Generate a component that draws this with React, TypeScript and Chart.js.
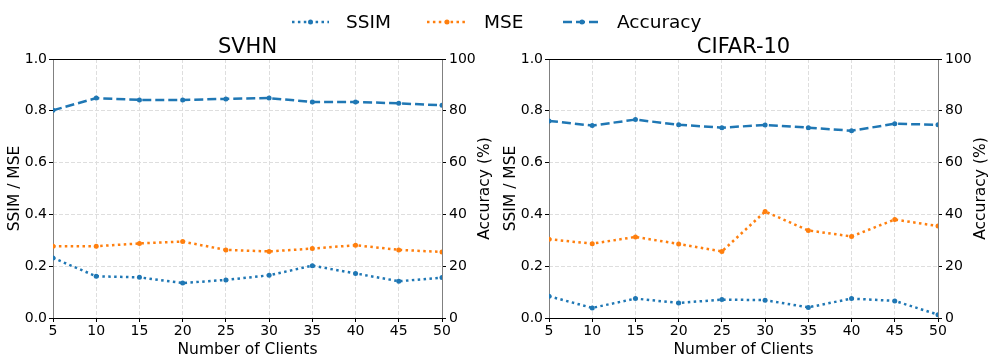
import React, { useEffect, useRef } from "react";
import { Chart, registerables } from "chart.js";

Chart.register(...registerables);

const clients = [5, 10, 15, 20, 25, 30, 35, 40, 45, 50];
const svhnSSIM = [0.232, 0.161, 0.157, 0.135, 0.147, 0.165, 0.202, 0.172, 0.142, 0.156];
const svhnMSE = [0.277, 0.277, 0.288, 0.295, 0.263, 0.257, 0.268, 0.281, 0.263, 0.255];
const svhnAcc = [80.2, 84.9, 84.2, 84.2, 84.6, 84.9, 83.4, 83.4, 82.9, 82.1];
const cifarSSIM = [0.084, 0.039, 0.075, 0.058, 0.071, 0.069, 0.041, 0.075, 0.066, 0.013];
const cifarMSE = [0.304, 0.287, 0.313, 0.286, 0.257, 0.411, 0.338, 0.315, 0.38, 0.355];
const cifarAcc = [76.1, 74.3, 76.6, 74.6, 73.5, 74.5, 73.5, 72.3, 75.0, 74.6];

const BLUE = "#1f77b4";
const ORANGE = "#ff7f0e";
const FONT = "DejaVu Sans";
const DOT = [2.5, 3.4];
const DASH = [9, 4];

Chart.defaults.font.family = FONT;

type PanelProps = {
  title: string;
  ssim: number[];
  mse: number[];
  acc: number[];
  left: number;
  width: number;
  leftW: number;
};

function Panel({ title, ssim, mse, acc, left, width, leftW }: PanelProps) {
  const ref = useRef<HTMLCanvasElement>(null);
  useEffect(() => {
    const canvas = ref.current;
    if (!canvas) return;
    const rightW = width - leftW - 389;
    const deco = {
      id: "deco",
      beforeDatasetsDraw(chart: any) {
        const { ctx, chartArea: a } = chart;
        const L = Math.floor(a.left) + 0.5;
        const R = Math.floor(a.right) + 0.5;
        const T = Math.floor(a.top) + 0.5;
        const B = Math.floor(a.bottom) + 0.5;
        ctx.save();
        ctx.setLineDash([]);
        ctx.lineWidth = 1;
        ctx.strokeStyle = "#808080";
        ctx.beginPath();
        ctx.moveTo(L, T);
        ctx.lineTo(L, B);
        ctx.moveTo(R, T);
        ctx.lineTo(R, B);
        ctx.stroke();
        ctx.strokeStyle = "#000";
        ctx.beginPath();
        ctx.moveTo(L - 0.5, T);
        ctx.lineTo(R + 0.5, T);
        ctx.moveTo(L - 0.5, B);
        ctx.lineTo(R + 0.5, B);
        ctx.stroke();
        ctx.restore();
      },
      afterDraw(chart: any) {
        const { ctx, chartArea: a } = chart;
        const cx = (a.left + a.right) / 2;
        const cy = (a.top + a.bottom) / 2;
        ctx.save();
        ctx.fillStyle = "#000";
        ctx.textAlign = "center";
        ctx.textBaseline = "alphabetic";
        ctx.font = `21px "${FONT}"`;
        ctx.fillText(title, cx, 53);
        ctx.font = `15.5px "${FONT}"`;
        ctx.fillText("Number of Clients", cx, a.bottom + 36);
        ctx.save();
        ctx.translate(a.left - 34, cy);
        ctx.rotate(-Math.PI / 2);
        ctx.fillText("SSIM / MSE", 0, 0);
        ctx.restore();
        ctx.save();
        ctx.translate(a.right + 47, cy);
        ctx.rotate(-Math.PI / 2);
        ctx.fillText("Accuracy (%)", 0, 0);
        ctx.restore();
        ctx.restore();
      },
    };
    const pts = (ys: number[]) => clients.map((x, i) => ({ x, y: ys[i] }));
    const common = {
      borderWidth: 2.5,
      borderCapStyle: "butt",
      pointRadius: 2.5,
      pointBorderWidth: 0,
      pointHoverRadius: 2.5,
      tension: 0,
      fill: false,
    };
    const tickFont = { family: FONT, size: 14 };
    const gridBase = {
      color: "#dedede",
      lineWidth: 1,
      tickColor: "#000",
      tickLength: 4,
      tickWidth: 1,
    };
    const chart = new Chart(canvas, {
      type: "line",
      data: {
        datasets: [
          {
            ...common,
            label: "SSIM",
            data: pts(ssim),
            yAxisID: "y",
            borderColor: BLUE,
            backgroundColor: BLUE,
            pointBackgroundColor: BLUE,
            borderDash: DOT,
          },
          {
            ...common,
            label: "MSE",
            data: pts(mse),
            yAxisID: "y",
            borderColor: ORANGE,
            backgroundColor: ORANGE,
            pointBackgroundColor: ORANGE,
            borderDash: DOT,
          },
          {
            ...common,
            label: "Accuracy",
            data: pts(acc),
            yAxisID: "y1",
            borderColor: BLUE,
            backgroundColor: BLUE,
            pointBackgroundColor: BLUE,
            borderDash: DASH,
          },
        ] as any,
      },
      options: {
        responsive: false,
        animation: false,
        devicePixelRatio: 1,
        layout: { padding: { top: 59, left: 0, right: 0, bottom: 0 } },
        plugins: {
          legend: { display: false },
          tooltip: { enabled: false },
          title: { display: false },
        },
        events: [],
        scales: {
          x: {
            type: "linear",
            min: 5,
            max: 50,
            ticks: {
              stepSize: 5,
              font: tickFont,
              color: "#000",
              padding: 1,
              maxRotation: 0,
              autoSkip: false,
            },
            grid: { ...gridBase },
            border: { display: false, dash: [4, 2] },
            afterFit: (s: any) => {
              s.height = 45;
            },
          },
          y: {
            type: "linear",
            position: "left",
            min: 0,
            max: 1,
            ticks: {
              stepSize: 0.2,
              font: tickFont,
              color: "#000",
              padding: 2,
              callback: (v: any) => Number(v).toFixed(1),
            },
            grid: { ...gridBase },
            border: { display: false, dash: [4, 2] },
            afterFit: (s: any) => {
              s.width = leftW;
            },
          },
          y1: {
            type: "linear",
            position: "right",
            min: 0,
            max: 100,
            ticks: {
              stepSize: 20,
              font: tickFont,
              color: "#000",
              padding: 3,
            },
            grid: { ...gridBase, drawOnChartArea: false },
            border: { display: false },
            afterFit: (s: any) => {
              s.width = rightW;
            },
          },
        },
      } as any,
      plugins: [deco],
    });
    return () => chart.destroy();
  }, []);
  return (
    <canvas
      ref={ref}
      width={width}
      height={363}
      style={{ position: "absolute", left, top: 0, width, height: 363 }}
    />
  );
}

function LegendItem({
  x0,
  x1,
  tx,
  color,
  dash,
  label,
}: {
  x0: number;
  x1: number;
  tx: number;
  color: string;
  dash: number[];
  label: string;
}) {
  const w = x1 - x0;
  return (
    <>
      <svg
        width={w}
        height={10}
        style={{ position: "absolute", left: x0, top: 17 }}
      >
        <line
          x1={0}
          y1={5}
          x2={w}
          y2={5}
          stroke={color}
          strokeWidth={2.5}
          strokeDasharray={dash.join(",")}
        />
        <circle cx={w / 2} cy={5} r={2.5} fill={color} />
      </svg>
      <span
        style={{
          position: "absolute",
          left: tx,
          top: 12.6,
          fontFamily: FONT,
          fontSize: "18.5px",
          lineHeight: "18.5px",
          color: "#000",
          whiteSpace: "nowrap",
        }}
      >
        {label}
      </span>
    </>
  );
}

export default function App() {
  return (
    <div
      style={{
        position: "absolute",
        left: 0,
        top: 0,
        width: 996,
        height: 363,
        background: "#fff",
        overflow: "hidden",
      }}
    >
      <Panel title="SVHN" ssim={svhnSSIM} mse={svhnMSE} acc={svhnAcc} left={0} width={496} leftW={53} />
      <Panel title="CIFAR-10" ssim={cifarSSIM} mse={cifarMSE} acc={cifarAcc} left={496} width={500} leftW={53} />
      <LegendItem x0={292} x1={329} tx={346} color={BLUE} dash={DOT} label="SSIM" />
      <LegendItem x0={427} x1={467} tx={484} color={ORANGE} dash={DOT} label="MSE" />
      <LegendItem x0={563} x1={601} tx={617} color={BLUE} dash={DASH} label="Accuracy" />
    </div>
  );
}
